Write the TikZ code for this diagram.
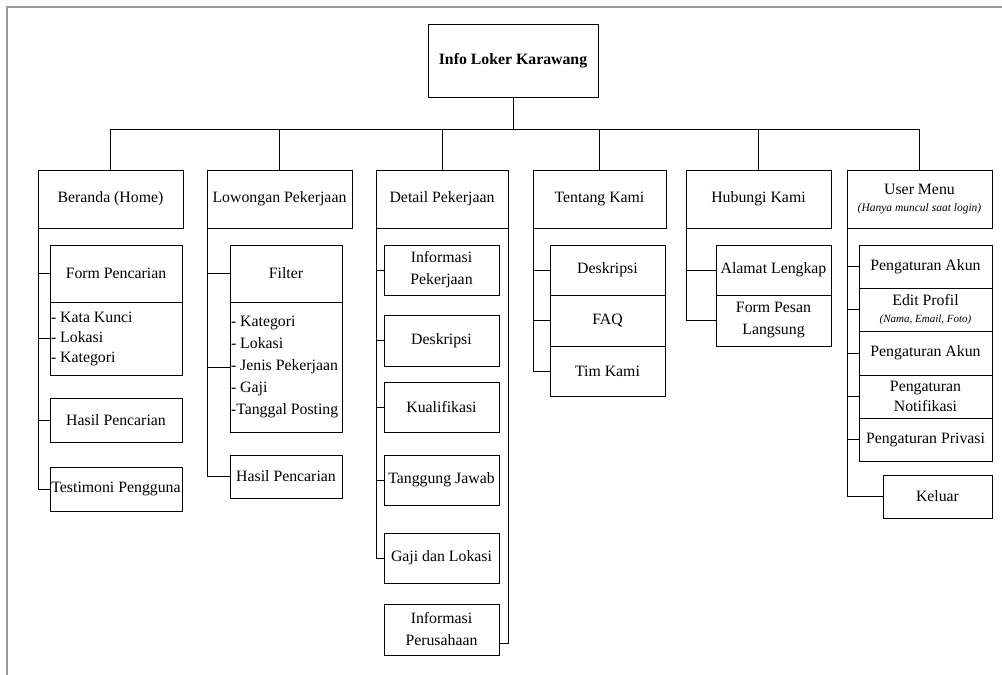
\documentclass[tikz,border=0pt]{standalone}
\usepackage{fontspec}
\setmainfont{Liberation Serif}
\usetikzlibrary{positioning}

\begin{document}
\begin{tikzpicture}[x=1pt,y=-1pt]
  \tikzstyle{rootbox} = [rectangle, draw, line width=0.9pt, outer sep=0pt, minimum width=170pt, minimum height=73pt, font=\fontsize{15.8}{21}\selectfont\bfseries]
  \tikzstyle{menu} = [rectangle, draw, line width=0.9pt, outer sep=0pt, minimum width=145pt, minimum height=58pt, inner sep=1pt, align=center, font=\fontsize{15.8}{21}\selectfont]
  \tikzstyle{subbox} = [rectangle, draw, line width=0.9pt, outer sep=0pt, inner sep=1pt, align=center, font=\fontsize{15.8}{22}\selectfont]
  \tikzstyle{listbox} = [subbox, align=flush left, inner xsep=1pt]
  \tikzstyle{conn} = [line width=0.9pt]

  \useasboundingbox (0,0) rectangle (1002,675);
  \draw[gray!80, line width=1.6pt] (7,675) -- (7,7) -- (1002,7);

  % root and menu
  \node[rootbox] (root) at (513,60.5) {Info Loker Karawang};
  \node[menu] (ber) at (110.5,199) {Beranda (Home)};
  \node[menu] (low) at (279.5,199) {Lowongan Pekerjaan};
  \node[menu, minimum width=132pt] (det) at (442,199) {Detail Pekerjaan};
  \node[menu, minimum width=133pt] (ten) at (599.5,199) {Tentang Kami};
  \node[menu] (hub) at (758.5,199) {Hubungi Kami};
  \node[menu] (usr) at (919.5,199) {User Menu\\[-4pt]{\fontsize{11.5}{12}\selectfont\itshape (Hanya muncul saat login)}};

  % beranda
  \node[subbox, minimum width=132pt, minimum height=57pt] (formp) at (116,273.5) {Form Pencarian};
  \node[listbox, text width=130pt, minimum height=73pt, below=0pt of formp, font=\fontsize{15.8}{20}\selectfont] (formlist) {- Kata Kunci\\- Lokasi\\- Kategori};
  \node[subbox, minimum width=132pt, minimum height=44pt] (hasil1) at (116,420) {Hasil Pencarian};
  \node[subbox, minimum width=132pt, minimum height=44pt] (testi) at (116,489) {Testimoni Pengguna};

  % lowongan
  \node[subbox, minimum width=112pt, minimum height=57pt] (filter) at (286,273.5) {Filter};
  \node[listbox, text width=110pt, minimum height=130pt, below=0pt of filter] (filterlist) {- Kategori\\- Lokasi\\- Jenis Pekerjaan\\- Gaji\\-Tanggal Posting};
  \node[subbox, minimum width=112pt, minimum height=43pt] (hasil2) at (286,476.5) {Hasil Pencarian};

  % detail
  \node[subbox, minimum width=115pt, minimum height=50pt] (infop) at (441.5,270) {Informasi\\Pekerjaan};
  \node[subbox, minimum width=115pt, minimum height=51pt] (desk1) at (441.5,340.5) {Deskripsi};
  \node[subbox, minimum width=115pt, minimum height=50pt] (kual) at (441.5,407) {Kualifikasi};
  \node[subbox, minimum width=115pt, minimum height=50pt] (tang) at (441.5,480) {Tanggung Jawab};
  \node[subbox, minimum width=115pt, minimum height=50pt] (gaji) at (441.5,558) {Gaji dan Lokasi};
  \node[subbox, minimum width=115pt, minimum height=51pt] (infoper) at (441.5,629.5) {Informasi\\Perusahaan};

  % tentang
  \node[subbox, minimum width=115pt, minimum height=50pt] (desk2) at (607.5,270) {Deskripsi};
  \node[subbox, minimum width=115pt, minimum height=51pt, below=0pt of desk2] (faq) {FAQ};
  \node[subbox, minimum width=115pt, minimum height=50pt, below=0pt of faq] (tim) {Tim Kami};

  % hubungi
  \node[subbox, minimum width=115pt, minimum height=50pt] (alamat) at (773.5,270) {Alamat Lengkap};
  \node[subbox, minimum width=115pt, minimum height=51pt, below=0pt of alamat] (pesan) {Form Pesan\\Langsung};

  % user menu
  \node[subbox, minimum width=133pt, minimum height=43pt] (akun1) at (925.5,266.5) {Pengaturan Akun};
  \node[subbox, minimum width=133pt, minimum height=43pt, below=0pt of akun1] (edit) {Edit Profil\\[-5pt]{\fontsize{11}{12}\selectfont\itshape (Nama, Email, Foto)}};
  \node[subbox, minimum width=133pt, minimum height=44pt, below=0pt of edit] (akun2) {Pengaturan Akun};
  \node[subbox, minimum width=133pt, minimum height=43pt, below=0pt of akun2, font=\fontsize{15.8}{20}\selectfont] (notif) {Pengaturan\\Notifikasi};
  \node[subbox, minimum width=133pt, minimum height=43pt, below=0pt of notif] (privasi) {Pengaturan Privasi};
  \node[subbox, minimum width=109pt, minimum height=43pt] (keluar) at (937.5,496.5) {Keluar};

  % connectors
  \coordinate (bus) at (513,129);
  \draw[conn] (root.south) -- (bus);
  \foreach \c in {ber,low,det,ten,hub,usr}
    \draw[conn] (bus) -| (\c.north);
  \foreach \c in {formp,formlist,hasil1,testi}
    \draw[conn] (ber.south west) |- (\c.west);
  \foreach \c in {filter,filterlist,hasil2}
    \draw[conn] (low.south west) |- (\c.west);
  \foreach \c in {infop,desk1,kual,tang,gaji}
    \draw[conn] (det.south west) |- (\c.west);
  \draw[conn] (det.south east) |- ([yshift=-13.5pt]infoper.east);
  \foreach \c in {desk2,faq,tim}
    \draw[conn] (ten.south west) |- (\c.west);
  \foreach \c in {alamat,pesan}
    \draw[conn] (hub.south west) |- (\c.west);
  \foreach \c in {akun1,edit,akun2,notif,privasi,keluar}
    \draw[conn] (usr.south west) |- (\c.west);
\end{tikzpicture}
\end{document}
